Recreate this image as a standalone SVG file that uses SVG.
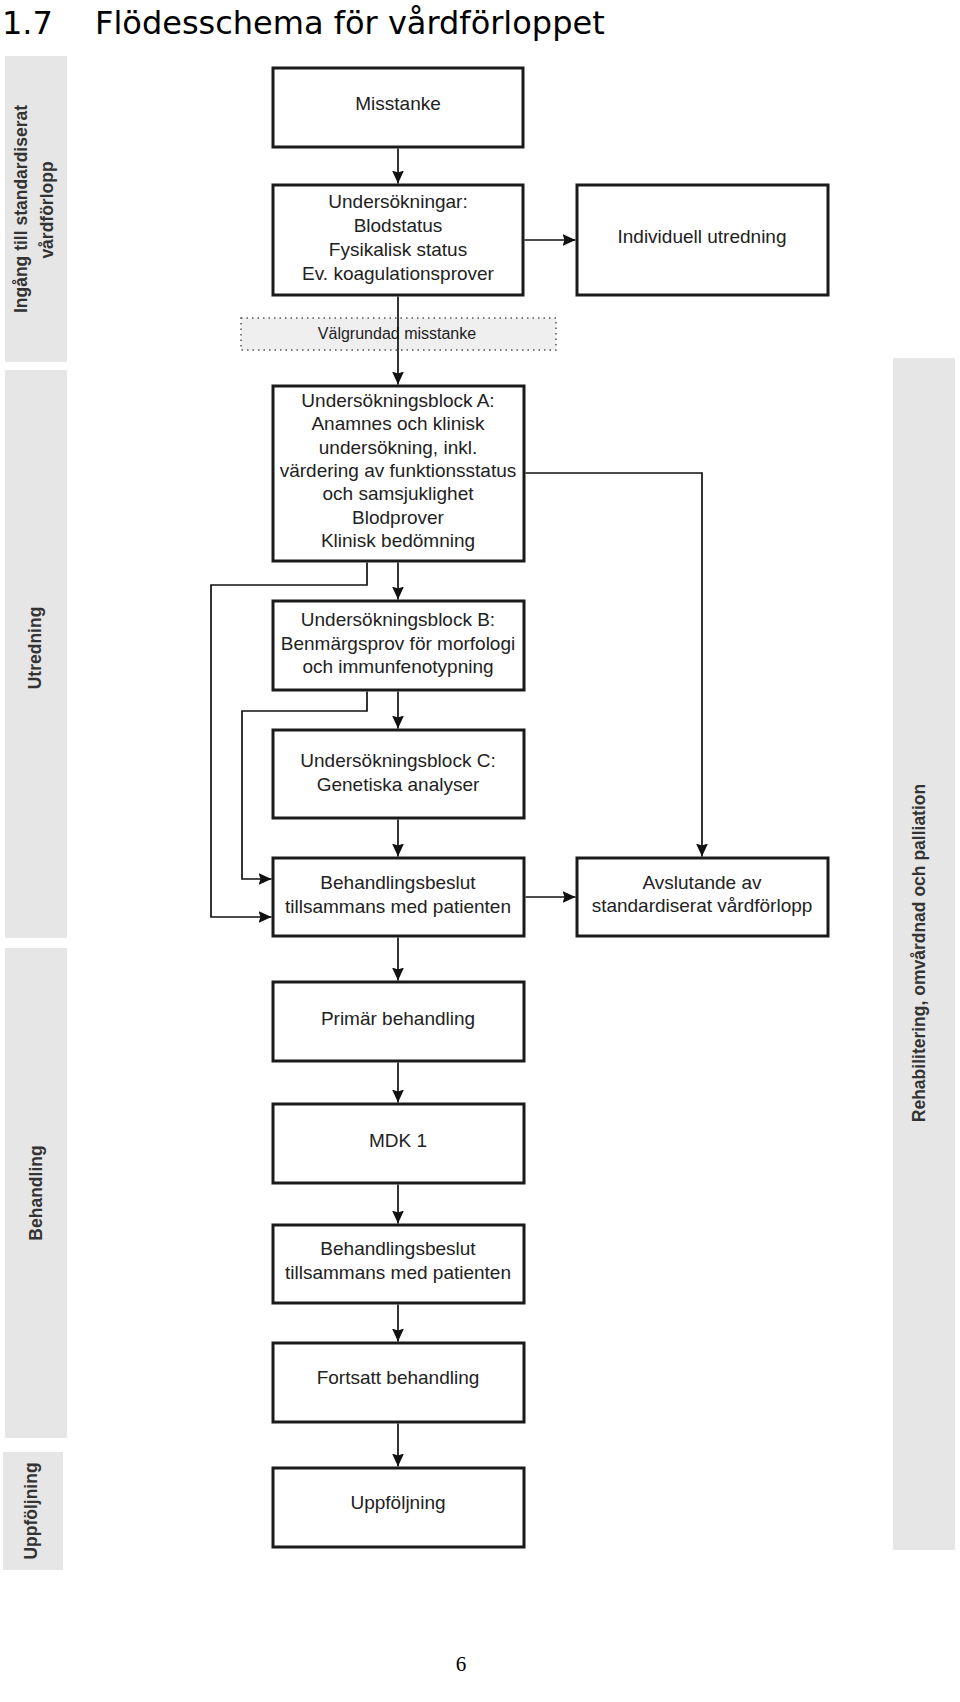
<svg xmlns="http://www.w3.org/2000/svg" width="960" height="1702" viewBox="0 0 960 1702">
  <defs>
    <marker id="arr" markerUnits="userSpaceOnUse" markerWidth="14" markerHeight="13" refX="13" refY="6" orient="auto">
      <path d="M0,0 L13,6 L0,12 L2,6 z" fill="#111"/>
    </marker>
    <style>
      .band { fill: #e6e6e6; }
      .bandtxt { font-family: "Liberation Sans", Arial, sans-serif; font-size: 17.5px; font-weight: bold; fill: #333; text-anchor: middle; dominant-baseline: central; }
      .box { fill: #ffffff; stroke: #1a1a1a; stroke-width: 3; }
      .txt { font-family: "Liberation Sans", Arial, sans-serif; font-size: 19px; fill: #222; text-anchor: middle; }
      .conn { fill: none; stroke: #111; stroke-width: 1.7; }
    </style>
  </defs>
  <rect x="0" y="0" width="960" height="1702" fill="#ffffff"/>

  <text x="2" y="34" font-family="DejaVu Sans, sans-serif" font-size="32" fill="#000">1.7</text>
  <text x="95" y="34" font-family="DejaVu Sans, sans-serif" font-size="32" fill="#000">Flödesschema för vårdförloppet</text>

  <g id="bands">
    <g id="band-ingang">
      <rect class="band" x="5" y="56" width="62" height="306"/>
      <text class="bandtxt" transform="translate(21,209) rotate(-90)">Ingång till standardiserat</text>
      <text class="bandtxt" transform="translate(47,210) rotate(-90)">vårdförlopp</text>
    </g>
    <g id="band-utredning">
      <rect class="band" x="5" y="370" width="62" height="568"/>
      <text class="bandtxt" transform="translate(35,648) rotate(-90)">Utredning</text>
    </g>
    <g id="band-behandling">
      <rect class="band" x="5" y="948" width="62" height="490"/>
      <text class="bandtxt" transform="translate(36,1193) rotate(-90)">Behandling</text>
    </g>
    <g id="band-uppfoljning">
      <rect class="band" x="3" y="1452" width="60" height="118"/>
      <text class="bandtxt" transform="translate(31,1511) rotate(-90)">Uppföljning</text>
    </g>
    <g id="band-rehab">
      <rect class="band" x="893" y="358" width="62" height="1192"/>
      <text class="bandtxt" transform="translate(919,953) rotate(-90)">Rehabilitering, omvårdnad och palliation</text>
    </g>
  </g>

  <g id="valgrundad">
    <rect x="241" y="318" width="315" height="32" fill="#efefef" stroke="#555" stroke-width="1.5" stroke-dasharray="1.5 4"/>
    <text class="txt" x="397" y="339" style="font-size:16px">Välgrundad misstanke</text>
  </g>

  <g id="misstanke">
    <rect class="box" x="273" y="68" width="250" height="79"/>
    <text class="txt" x="398" y="110">Misstanke</text>
  </g>
  <g id="undersokningar">
    <rect class="box" x="273" y="185" width="250" height="110"/>
    <text class="txt" x="398" y="208">Undersökningar:</text>
    <text class="txt" x="398" y="232">Blodstatus</text>
    <text class="txt" x="398" y="256">Fysikalisk status</text>
    <text class="txt" x="398" y="280">Ev. koagulationsprover</text>
  </g>
  <g id="individuell">
    <rect class="box" x="577" y="185" width="251" height="110"/>
    <text class="txt" x="702" y="243">Individuell utredning</text>
  </g>
  <g id="block-a">
    <rect class="box" x="273" y="386" width="251" height="175"/>
    <text class="txt" x="398" y="407">Undersökningsblock A:</text>
    <text class="txt" x="398" y="430">Anamnes och klinisk</text>
    <text class="txt" x="398" y="454">undersökning, inkl.</text>
    <text class="txt" x="398" y="477">värdering av funktionsstatus</text>
    <text class="txt" x="398" y="500">och samsjuklighet</text>
    <text class="txt" x="398" y="524">Blodprover</text>
    <text class="txt" x="398" y="547">Klinisk bedömning</text>
  </g>
  <g id="block-b">
    <rect class="box" x="273" y="601" width="251" height="89"/>
    <text class="txt" x="398" y="626">Undersökningsblock B:</text>
    <text class="txt" x="398" y="650">Benmärgsprov för morfologi</text>
    <text class="txt" x="398" y="673">och immunfenotypning</text>
  </g>
  <g id="block-c">
    <rect class="box" x="273" y="730" width="251" height="88"/>
    <text class="txt" x="398" y="767">Undersökningsblock C:</text>
    <text class="txt" x="398" y="791">Genetiska analyser</text>
  </g>
  <g id="behandlingsbeslut-1">
    <rect class="box" x="273" y="858" width="251" height="78"/>
    <text class="txt" x="398" y="889">Behandlingsbeslut</text>
    <text class="txt" x="398" y="913">tillsammans med patienten</text>
  </g>
  <g id="avslutande">
    <rect class="box" x="577" y="858" width="251" height="78"/>
    <text class="txt" x="702" y="889">Avslutande av</text>
    <text class="txt" x="702" y="912">standardiserat vårdförlopp</text>
  </g>
  <g id="primar">
    <rect class="box" x="273" y="982" width="251" height="79"/>
    <text class="txt" x="398" y="1025">Primär behandling</text>
  </g>
  <g id="mdk1">
    <rect class="box" x="273" y="1104" width="251" height="79"/>
    <text class="txt" x="398" y="1147">MDK 1</text>
  </g>
  <g id="behandlingsbeslut-2">
    <rect class="box" x="273" y="1225" width="251" height="78"/>
    <text class="txt" x="398" y="1255">Behandlingsbeslut</text>
    <text class="txt" x="398" y="1279">tillsammans med patienten</text>
  </g>
  <g id="fortsatt">
    <rect class="box" x="273" y="1343" width="251" height="79"/>
    <text class="txt" x="398" y="1384">Fortsatt behandling</text>
  </g>
  <g id="uppfoljning">
    <rect class="box" x="273" y="1468" width="251" height="79"/>
    <text class="txt" x="398" y="1509">Uppföljning</text>
  </g>

  <g id="connectors">
    <path class="conn" marker-end="url(#arr)" d="M398,148.5 V183.5"/>
    <path class="conn" marker-end="url(#arr)" d="M524.5,240 H575.5"/>
    <path class="conn" marker-end="url(#arr)" d="M398,296.5 V384.5"/>
    <path class="conn" marker-end="url(#arr)" d="M398,562.5 V599.5"/>
    <path class="conn" marker-end="url(#arr)" d="M398,691.5 V728.5"/>
    <path class="conn" marker-end="url(#arr)" d="M398,819.5 V856.5"/>
    <path class="conn" marker-end="url(#arr)" d="M367,562.5 V585 H211 V917 H271.5"/>
    <path class="conn" marker-end="url(#arr)" d="M367,691.5 V711 H242 V879 H271.5"/>
    <path class="conn" marker-end="url(#arr)" d="M525.5,473 H702 V856.5"/>
    <path class="conn" marker-end="url(#arr)" d="M525.5,897 H575.5"/>
    <path class="conn" marker-end="url(#arr)" d="M398,937.5 V980.5"/>
    <path class="conn" marker-end="url(#arr)" d="M398,1062.5 V1102.5"/>
    <path class="conn" marker-end="url(#arr)" d="M398,1184.5 V1223.5"/>
    <path class="conn" marker-end="url(#arr)" d="M398,1304.5 V1341.5"/>
    <path class="conn" marker-end="url(#arr)" d="M398,1423.5 V1466.5"/>
  </g>

  <text x="461" y="1671" font-family="Liberation Serif, serif" font-size="21" fill="#000" text-anchor="middle">6</text>
</svg>
